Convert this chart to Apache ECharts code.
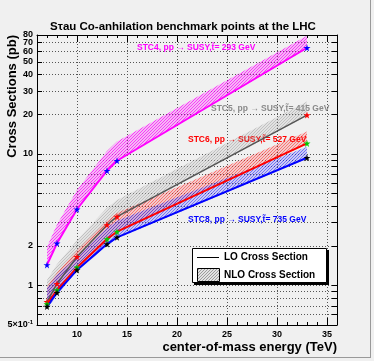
<!DOCTYPE html>
<html><head><meta charset="utf-8">
<script src="https://cdn.jsdelivr.net/npm/echarts@6/dist/echarts.min.js"></script>
<style>html,body{margin:0;padding:0;background:#f0f0f0}#c{width:374px;height:361px}</style>
</head><body><div id="c"></div>
<script>
const energies = [7, 8, 10, 13, 14, 33];
const stc4LO = [1.43, 2.09, 3.79, 7.44, 8.86, 64.0];
const stc4NLOlow = [1.43, 2.09, 3.8, 7.5, 8.9, 63.0];
const stc4NLOhigh = [1.97, 2.9, 5.3, 10.5, 12.4, 79.0];
const stc5LO = [0.75, 1.03, 1.65, 2.88, 3.33, 19.7];
const stc5NLOlow = [0.73, 1.0, 1.6, 2.8, 3.25, 19.5];
const stc5NLOhigh = [1.1, 1.45, 2.2, 3.9, 4.45, 25.0];
const stc6LO = [0.72, 0.92, 1.37, 2.25, 2.56, 12.0];
const stc6NLOlow = [0.7, 0.9, 1.35, 2.2, 2.5, 11.8];
const stc6NLOhigh = [0.98, 1.25, 1.85, 3.1, 3.55, 14.8];
const stc8LO = [0.69, 0.88, 1.31, 2.06, 2.32, 9.34];
const stc8NLOlow = [0.66, 0.85, 1.28, 2.0, 2.27, 9.2];
const stc8NLOhigh = [0.95, 1.2, 1.65, 2.75, 3.1, 11.3];
const xTickLabels = [10, 15, 20, 25, 30, 35];
const yTickValues = [0.6, 0.7, 0.8, 0.9, 1, 2, 3, 4, 5, 6, 7, 8, 9, 10, 20, 30, 40, 50, 60, 70, 80];
const yLabelValuesA = [0.5, 1, 2, 10, 20, 40, 60, 80];
const yLabelValuesB = [30, 50, 70];
const seriesLabels = [
  'STC4, pp \u2192 SUSY,t\u0303= 293 GeV',
  'STC5, pp \u2192 SUSY,t\u0303= 415 GeV',
  'STC6, pp \u2192 SUSY,t\u0303= 527 GeV',
  'STC8, pp \u2192 SUSY,t\u0303= 735 GeV'
];
const FONT = '"Liberation Sans", Arial, "DejaVu Sans", sans-serif';
const STAR = 'path://M50,0 L61,35 L98,35 L68,57 L79,91 L50,70 L21,91 L32,57 L2,35 L39,35 Z';

function makePattern(rgb, a1, a2) {
  const c = document.createElement('canvas'); c.width = 3; c.height = 3;
  const g = c.getContext('2d');
  g.fillStyle = 'rgba(' + rgb + ',' + a1 + ')'; g.fillRect(0, 0, 3, 3);
  g.fillStyle = 'rgba(' + rgb + ',' + a2 + ')';
  for (let i = 0; i < 3; i++) g.fillRect(i, 2 - i, 1, 1);
  return {image: c, repeat: 'repeat'};
}
function band(low, high, rgb, a1, a2) {
  return {
    type: 'custom', silent: true, z: 1,
    data: energies.map((e, i) => [e, low[i], high[i]]),
    renderItem: function (params, api) {
      if (params.dataIndex !== 0) return;
      const pts = [];
      for (let i = 0; i < energies.length; i++) pts.push(api.coord([energies[i], high[i]]));
      for (let i = energies.length - 1; i >= 0; i--) pts.push(api.coord([energies[i], low[i]]));
      return {type: 'polygon', shape: {points: pts}, style: {fill: makePattern(rgb, a1, a2)}};
    }
  };
}
function lo(vals, lineColor, markColor, w) {
  return {
    type: 'line', z: 3, data: energies.map((e, i) => [e, vals[i]]),
    symbol: STAR, symbolSize: 7, showAllSymbol: true,
    lineStyle: {color: lineColor, width: w},
    itemStyle: {color: markColor}
  };
}
const yLabelStyle = {interval: 0, showMaxLabel: true, showMinLabel: true, hideOverlap: false,
  fontSize: 9, fontWeight: 'bold', color: '#000', fontFamily: FONT, margin: 4,
  formatter: function (v) { return Math.abs(v - 0.5) < 1e-6 ? '5\u00d710{sup|-1}' : String(Math.round(v)); },
  rich: {sup: {fontSize: 6, fontWeight: 'bold', fontFamily: FONT, color: '#000', padding: [0, 0, 6, 0]}}};
const chart = echarts.init(document.getElementById('c'), null, {renderer: 'canvas'});
const axisCommon = {min: 6, max: 36, type: 'value'};
const logCommon = {type: 'log', logBase: 10, min: 0.5, max: 80};
chart.setOption({
  animation: false,
  backgroundColor: '#f0f0f0',
  grid: {left: 37, right: 37, top: 35, bottom: 36},
  xAxis: [
    Object.assign({}, axisCommon, {position: 'bottom',
      axisLine: {show: true, lineStyle: {color: '#000', width: 1}},
      axisTick: {show: true, inside: true, length: 7, customValues: xTickLabels, lineStyle: {color: '#000'}},
      axisLabel: {customValues: xTickLabels, fontSize: 9, fontWeight: 'bold', color: '#000', fontFamily: FONT, margin: 5},
      splitLine: {show: true, lineStyle: {color: '#555', type: [1, 2], width: 1}}}),
    Object.assign({}, axisCommon, {position: 'bottom', interval: 1,
      axisLine: {show: false}, axisTick: {show: true, inside: true, length: 3, lineStyle: {color: '#000'}},
      axisLabel: {show: false}, splitLine: {show: false}}),
    Object.assign({}, axisCommon, {position: 'top',
      axisLine: {show: true, lineStyle: {color: '#000', width: 1}},
      axisTick: {show: true, inside: true, length: 7, customValues: xTickLabels, lineStyle: {color: '#000'}},
      axisLabel: {show: false}, splitLine: {show: false}}),
    Object.assign({}, axisCommon, {position: 'top', interval: 1,
      axisLine: {show: false}, axisTick: {show: true, inside: true, length: 3, lineStyle: {color: '#000'}},
      axisLabel: {show: false}, splitLine: {show: false}})
  ],
  yAxis: [
    Object.assign({}, logCommon, {position: 'left',
      axisLine: {show: true, lineStyle: {color: '#000', width: 1}},
      axisTick: {show: true, inside: true, length: 5, customValues: yTickValues, lineStyle: {color: '#000'}},
      axisLabel: Object.assign({customValues: yLabelValuesA}, yLabelStyle),
      splitLine: {show: true, lineStyle: {color: '#555', type: [1, 2], width: 1}}}),
    Object.assign({}, logCommon, {position: 'right',
      axisLine: {show: true, lineStyle: {color: '#000', width: 1}},
      axisTick: {show: true, inside: true, length: 5, customValues: yTickValues, lineStyle: {color: '#000'}},
      axisLabel: {show: false}, splitLine: {show: false}}),
    Object.assign({}, logCommon, {position: 'left',
      axisLine: {show: false}, axisTick: {show: false},
      axisLabel: Object.assign({customValues: yLabelValuesB}, yLabelStyle),
      splitLine: {show: false}})
  ],
  series: [
    band(stc4NLOlow, stc4NLOhigh, '255,0,255', 0.22, 0.7),
    band(stc5NLOlow, stc5NLOhigh, '150,150,150', 0.15, 0.45),
    band(stc6NLOlow, stc6NLOhigh, '255,40,40', 0.18, 0.55),
    band(stc8NLOlow, stc8NLOhigh, '40,40,255', 0.18, 0.55),
    lo(stc4LO, '#ff00ff', '#0000ff', 2),
    lo(stc5LO, '#555555', '#ff0000', 1.5),
    lo(stc6LO, '#ff0000', '#00cc00', 2),
    lo(stc8LO, '#0000ff', '#000000', 2)
  ],
  graphic: [
    {type: 'line', shape: {x1: 370.5, y1: 0, x2: 370.5, y2: 358}, style: {stroke: '#999', lineWidth: 1}, silent: true},
    {type: 'line', shape: {x1: 0, y1: 357.5, x2: 371, y2: 357.5}, style: {stroke: '#999', lineWidth: 1}, silent: true},
    {type: 'text', x: 183, y: 27, style: {text: 'S\u03c4au Co-anhilation benchmark points at the LHC', font: 'bold 11.5px ' + FONT, fill: '#000', align: 'center', verticalAlign: 'middle'}},
    {type: 'text', x: 337, y: 347, style: {text: 'center-of-mass energy (TeV)', font: 'bold 13px ' + FONT, fill: '#000', align: 'right', verticalAlign: 'middle'}},
    {type: 'text', x: 12, y: 35, rotation: Math.PI / 2, style: {text: 'Cross Sections (pb)', font: 'bold 13px ' + FONT, fill: '#000', align: 'right', verticalAlign: 'middle'}},
    {type: 'text', x: 137, y: 48, style: {text: seriesLabels[0], font: 'bold 8.5px ' + FONT, fill: '#ff00ff', verticalAlign: 'middle'}},
    {type: 'text', x: 211, y: 109, style: {text: seriesLabels[1], font: 'bold 8.5px ' + FONT, fill: '#8a8a8a', verticalAlign: 'middle'}},
    {type: 'text', x: 188, y: 140, style: {text: seriesLabels[2], font: 'bold 8.5px ' + FONT, fill: '#ff0000', verticalAlign: 'middle'}},
    {type: 'text', x: 188, y: 220, style: {text: seriesLabels[3], font: 'bold 8.5px ' + FONT, fill: '#0000ff', verticalAlign: 'middle'}},
    {type: 'rect', shape: {x: 194, y: 250, width: 135, height: 35}, style: {fill: '#000'}, z: 10},
    {type: 'rect', shape: {x: 192.5, y: 248.5, width: 134, height: 34}, style: {fill: '#fff', stroke: '#000', lineWidth: 1}, z: 11},
    {type: 'line', shape: {x1: 197, y1: 257.5, x2: 219, y2: 257.5}, style: {stroke: '#000', lineWidth: 1}, z: 12},
    {type: 'rect', shape: {x: 197.5, y: 268.5, width: 22, height: 13}, style: {fill: makePattern('110,110,110', 0.2, 0.6), stroke: '#000', lineWidth: 1}, z: 12},
    {type: 'text', x: 224, y: 257, z: 12, style: {text: 'LO Cross Section', font: 'bold 10px ' + FONT, fill: '#000', verticalAlign: 'middle'}},
    {type: 'text', x: 224, y: 275, z: 12, style: {text: 'NLO Cross Section', font: 'bold 10px ' + FONT, fill: '#000', verticalAlign: 'middle'}}
  ]
});
</script></body></html>
